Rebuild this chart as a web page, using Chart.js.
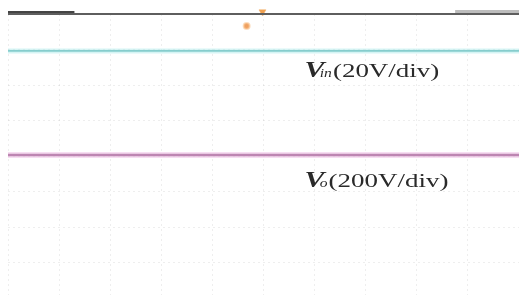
<!DOCTYPE html>
<html><head><meta charset="utf-8">
<script src="https://cdn.jsdelivr.net/npm/chart.js@4/dist/chart.umd.min.js"></script>
<style>html,body{margin:0;padding:0;background:#fff;overflow:hidden}#wrap{width:525px;height:304px;position:relative}</style>
</head><body><div id="wrap"><canvas id="c"></canvas></div>
<script>
// horizontal divisions span and vertical division levels
const xSpan = [0, 10];
const vinLevel = [6.96, 6.96];   // Vin trace (div)
const voLevel = [4.03, 4.03];    // Vo trace (div)
const frameLevel = [8, 8];
const leftTagX = [0, 1.3];
const rightTagX = [8.75, 10];
const trigX = [4.98], trigY = [8.06];
const cursorX = [4.67], cursorY = [7.66];
const labelMain = ['V', 'V'];
const labelSub = ['in', 'o'];
const labelScale = ['(20V/div)', '(200V/div)'];
const labelX = [5.80, 5.80];
const labelY = [6.22, 3.14];

const pts = (xs, ys) => xs.map((x, i) => ({x, y: ys[i]}));

const labelPlugin = {
  id: 'traceLabels',
  afterDatasetsDraw(chart) {
    const {ctx, scales: {x, y}} = chart;
    ctx.save();
    ctx.fillStyle = '#2a2a2a';
    for (let i = 0; i < labelMain.length; i++) {
      const px = x.getPixelForValue(labelX[i]);
      const py = y.getPixelForValue(labelY[i]);
      ctx.save();
      ctx.translate(px, py);
      ctx.scale(1.3, 1);
      ctx.textBaseline = 'alphabetic';
      ctx.font = 'italic bold 23px "Liberation Serif"';
      ctx.fillText(labelMain[i], 0, 0);
      let w = ctx.measureText(labelMain[i]).width - 3.5;
      ctx.font = 'italic 12px "Liberation Serif"';
      ctx.fillText(labelSub[i], w, 0);
      w += ctx.measureText(labelSub[i]).width;
      ctx.restore();
      ctx.save();
      ctx.translate(px + w * 1.3 + 1, py);
      ctx.scale(1.42, 1);
      ctx.font = '19px "Liberation Serif"';
      ctx.fillText(labelScale[i], 0, 0);
      ctx.restore();
    }
    ctx.restore();
  }
};

new Chart(document.getElementById('c'), {
  type: 'line',
  data: {
    datasets: [
      {data: pts(xSpan, vinLevel), borderColor: 'rgba(180,235,235,0.55)', borderWidth: 5, pointRadius: 0},
      {data: pts(xSpan, vinLevel), borderColor: '#4fa9a9', borderWidth: 1.8, pointRadius: 0},
      {data: pts(xSpan, voLevel), borderColor: 'rgba(240,195,232,0.55)', borderWidth: 6, pointRadius: 0},
      {data: pts(xSpan, voLevel), borderColor: '#7e3d72', borderWidth: 2.5, pointRadius: 0},
      {data: pts(xSpan, frameLevel), borderColor: '#5e5e5e', borderWidth: 2, pointRadius: 0, clip: false},
      {data: pts(leftTagX, [8.04, 8.04]), borderColor: '#444', borderWidth: 3, pointRadius: 0, clip: false},
      {data: pts(rightTagX, [8.07, 8.07]), borderColor: '#bdbdbd', borderWidth: 3, pointRadius: 0, clip: false},
      {data: pts(trigX, trigY), showLine: false, pointStyle: 'triangle', rotation: 180, pointRadius: 4, backgroundColor: '#f0a050', borderColor: 'rgba(245,170,90,0.5)', borderWidth: 1, clip: false},
      {data: pts(cursorX, cursorY), showLine: false, pointRadius: 3, backgroundColor: '#efa060', borderColor: 'rgba(250,200,150,0.6)', borderWidth: 2, clip: false}
    ]
  },
  options: {
    responsive: true, maintainAspectRatio: false, animation: false,
    layout: {padding: {left: 8, right: 0, top: 14, bottom: 0}},
    plugins: {legend: {display: false}, tooltip: {enabled: false}},
    scales: {
      x: {type: 'linear', min: 0, max: 10, afterFit: s => { s.height = 0; s.paddingLeft = 0; s.paddingRight = 0; },
          ticks: {display: false, stepSize: 1}, border: {display: false, dash: [2, 3]},
          grid: {drawTicks: false, color: 'rgba(150,150,150,0.16)', lineWidth: 1}},
      y: {type: 'linear', min: 0, max: 8, afterFit: s => { s.width = 0; s.paddingTop = 0; s.paddingBottom = 0; },
          ticks: {display: false, stepSize: 1}, border: {display: false, dash: [2, 3]},
          grid: {drawTicks: false, color: 'rgba(150,150,150,0.16)', lineWidth: 1}}
    }
  },
  plugins: [labelPlugin]
});
</script></body></html>
